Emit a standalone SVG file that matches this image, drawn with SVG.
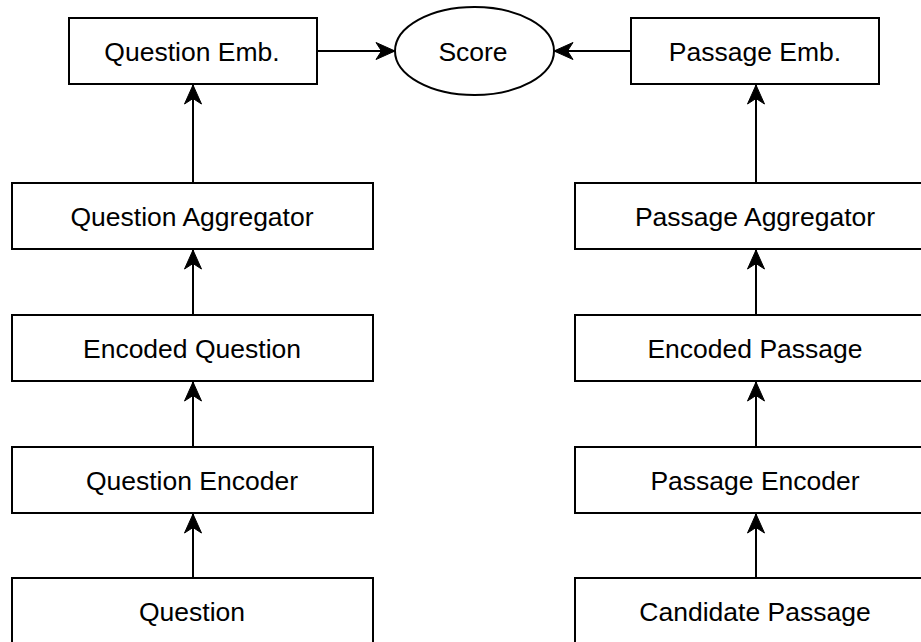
<svg xmlns="http://www.w3.org/2000/svg" width="921" height="642" viewBox="0 0 921 642">
  <style>
    .box { fill: #ffffff; stroke: #000000; stroke-width: 2; }
    .lbl { font-family: "Liberation Sans", Arial, Helvetica, sans-serif; font-size: 26.5px; fill: #000000; text-anchor: middle; }
    .edge { fill: none; stroke: #000000; stroke-width: 2; marker-end: url(#arrow); }
  </style>
  <defs>
    <marker id="arrow" markerUnits="userSpaceOnUse" viewBox="-21 -10 22 20" refX="0" refY="0" markerWidth="22" markerHeight="20" orient="auto">
      <path d="M0,0 L-19,-8.5 L-13.5,0 L-19,8.5 Z" fill="#000000" stroke="#000000" stroke-width="1" stroke-linejoin="miter"/>
    </marker>
  </defs>
  <rect x="0" y="0" width="921" height="642" fill="#ffffff"/>

  <g id="connectors">
    <path class="edge" d="M317,51 L395,51"/>
    <path class="edge" d="M631,51 L554,51"/>
    <path class="edge" d="M193,183 L193,85"/>
    <path class="edge" d="M193,315 L193,250"/>
    <path class="edge" d="M193,447 L193,382"/>
    <path class="edge" d="M193,578 L193,514"/>
    <path class="edge" d="M756,183 L756,85"/>
    <path class="edge" d="M756,315 L756,250"/>
    <path class="edge" d="M756,447 L756,382"/>
    <path class="edge" d="M756,578 L756,514"/>
  </g>

  <g id="score">
    <ellipse class="box" cx="474.5" cy="51" rx="79.5" ry="44"/>
    <text class="lbl" x="473" y="60.5">Score</text>
  </g>
  <g id="question-emb">
    <rect class="box" x="69" y="18" width="248" height="66"/>
    <text class="lbl" x="192" y="60.5">Question Emb.</text>
  </g>
  <g id="passage-emb">
    <rect class="box" x="631" y="18" width="248" height="66"/>
    <text class="lbl" x="755" y="60.5">Passage Emb.</text>
  </g>
  <g id="question-aggregator">
    <rect class="box" x="12" y="183" width="361" height="66"/>
    <text class="lbl" x="192" y="225.5">Question Aggregator</text>
  </g>
  <g id="passage-aggregator">
    <rect class="box" x="575" y="183" width="361" height="66"/>
    <text class="lbl" x="755" y="225.5">Passage Aggregator</text>
  </g>
  <g id="encoded-question">
    <rect class="box" x="12" y="315" width="361" height="66"/>
    <text class="lbl" x="192" y="357.5">Encoded Question</text>
  </g>
  <g id="encoded-passage">
    <rect class="box" x="575" y="315" width="361" height="66"/>
    <text class="lbl" x="755" y="357.5">Encoded Passage</text>
  </g>
  <g id="question-encoder">
    <rect class="box" x="12" y="447" width="361" height="66"/>
    <text class="lbl" x="192" y="489.5">Question Encoder</text>
  </g>
  <g id="passage-encoder">
    <rect class="box" x="575" y="447" width="361" height="66"/>
    <text class="lbl" x="755" y="489.5">Passage Encoder</text>
  </g>
  <g id="question">
    <rect class="box" x="12" y="578" width="361" height="66"/>
    <text class="lbl" x="192" y="620.5">Question</text>
  </g>
  <g id="candidate-passage">
    <rect class="box" x="575" y="578" width="361" height="66"/>
    <text class="lbl" x="755" y="620.5">Candidate Passage</text>
  </g>
</svg>
